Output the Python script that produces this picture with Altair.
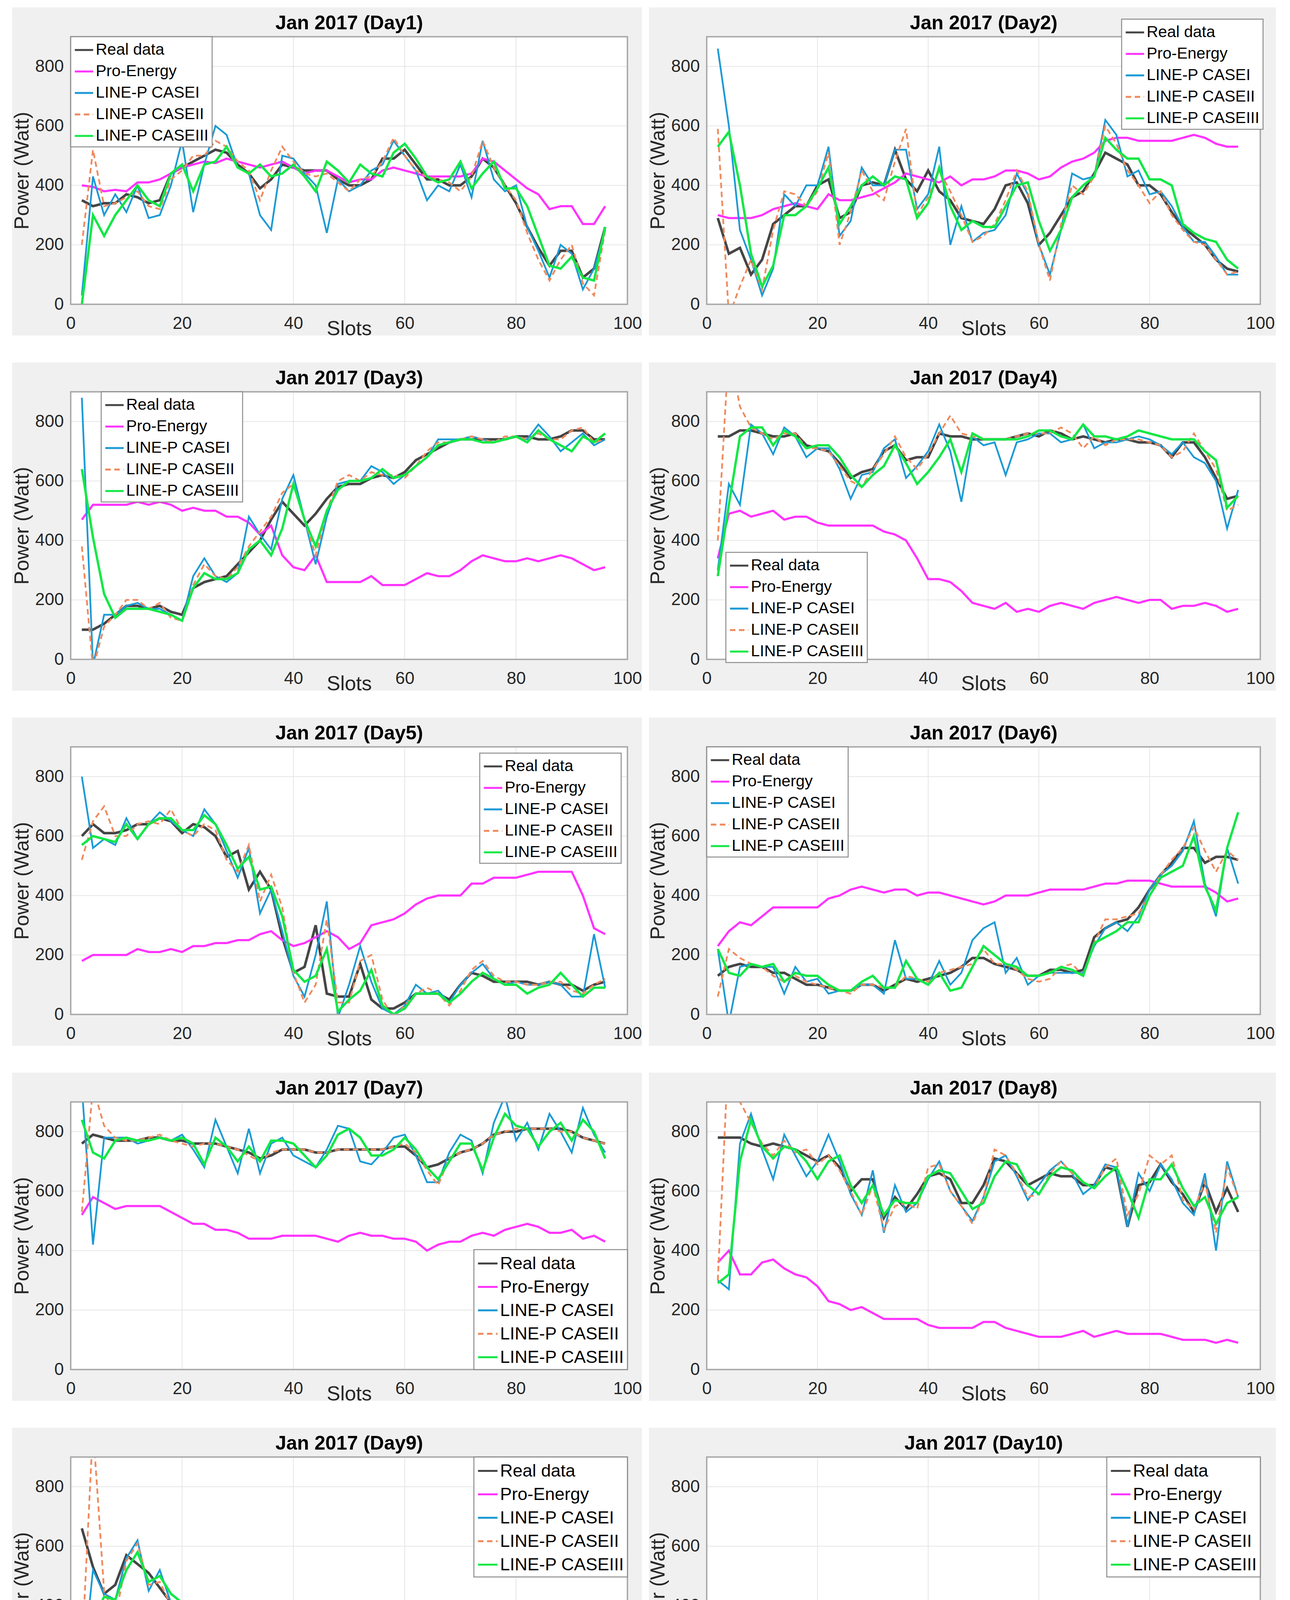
import altair as alt
import pandas as pd

# ---------------- data ----------------
SLOTS = list(range(2, 97, 2))
SERIES = ["Real data", "Pro-Energy", "LINE-P CASEI", "LINE-P CASEII", "LINE-P CASEIII"]

DAY1_REAL = [350,330,340,340,370, 360,340,350,440,460, 480,500,520,510,470, 440,390,420,470,460, 450,450,450,420,400, 400,420,490,490,520, 470,420,420,400,400, 430,490,460,400,340, 260,190,130,180,180, 90,120,260]
DAY1_PRO = [400,395,380,385,380, 410,410,420,440,460, 470,480,475,490,480, 470,460,470,480,460, 440,450,450,430,410, 420,420,450,460,450, 440,430,430,430,430, 440,490,480,450,420, 390,370,320,330,330, 270,270,330]
DAY1_C1 = [30,430,300,370,310, 400,290,300,400,550, 310,470,600,570,460, 440,300,250,500,490, 440,400,240,420,380, 400,450,470,550,500, 450,350,400,380,470, 360,550,420,380,400, 260,180,90,200,170, 50,120,250]
DAY1_C2 = [200,520,330,340,360, 380,330,320,420,450, 500,500,550,530,480, 450,350,450,530,480, 440,430,440,410,380, 420,430,480,560,500, 450,430,420,410,380, 430,550,460,400,350, 240,150,80,150,200, 70,30,250]
DAY1_C3 = [0,300,230,300,350, 400,350,330,440,470, 380,470,480,530,460, 440,470,430,440,470, 430,380,480,450,410, 470,440,430,510,540, 490,430,410,420,480, 390,440,480,390,390, 330,230,130,120,160, 90,80,260]

DAY2_REAL = [290,170,190,100,150, 270,300,330,330,400, 420,290,310,400,410, 400,520,420,380,450, 380,350,290,280,270, 320,400,410,340,200, 240,300,360,380,440, 510,490,470,400,400, 370,310,260,230,200, 150,120,110]
DAY2_PRO = [300,290,290,290,300, 320,330,340,330,320, 370,350,350,360,370, 390,410,440,430,420, 410,430,400,420,420, 430,450,450,440,420, 430,460,480,490,510, 550,560,560,550,550, 550,550,560,570,560, 540,530,530]
DAY2_C1 = [860,600,250,150,30, 120,370,330,400,400, 530,230,280,460,400, 400,520,520,320,370, 530,200,330,210,240, 250,300,440,370,200, 100,250,440,420,430, 620,570,430,450,370, 380,330,260,210,210, 160,100,100]
DAY2_C2 = [590,-40,60,150,50, 250,380,370,330,380, 510,200,310,450,380, 350,480,590,300,360, 450,380,300,210,230, 270,350,450,380,200, 80,270,400,370,430, 600,540,450,400,340, 380,300,250,210,200, 150,100,110]
DAY2_C3 = [530,580,400,170,60, 130,300,300,330,390, 460,270,330,400,430, 400,430,420,290,340, 460,330,250,280,260, 260,330,400,410,280, 180,250,360,400,430, 560,520,490,490,420, 420,400,270,240,220, 210,150,120]

DAY3_REAL = [100,100,120,150,180, 180,170,180,160,150, 240,260,270,280,320, 360,400,470,530,490, 450,490,540,580,590, 590,610,620,610,630, 670,690,710,730,740, 740,740,740,740,750, 750,740,740,750,770, 770,740,740]
DAY3_PRO = [470,520,520,520,520, 530,520,530,520,500, 510,500,500,480,480, 460,420,450,350,310, 300,350,260,260,260, 260,280,250,250,250, 270,290,280,280,300, 330,350,340,330,330, 340,330,340,350,340, 320,300,310]
DAY3_C1 = [880,-20,150,150,180, 190,170,170,150,130, 280,340,280,260,290, 480,420,370,540,620, 470,320,480,590,600, 600,650,630,590,620, 650,680,740,740,740, 750,740,730,740,750, 740,790,750,700,730, 760,720,740]
DAY3_C2 = [380,-30,110,150,200, 200,170,190,140,130, 250,320,280,270,310, 380,430,480,560,590, 470,350,500,600,620, 600,630,620,620,610, 650,700,730,730,740, 750,740,730,750,750, 740,760,740,740,770, 780,730,740]
DAY3_C3 = [640,410,220,140,170, 170,170,160,150,130, 240,290,270,270,290, 370,400,350,440,590, 470,380,500,570,600, 600,610,640,610,620, 650,680,720,730,740, 740,730,730,740,750, 730,770,740,720,700, 750,730,760]

DAY4_REAL = [750,750,770,770,760, 750,750,760,720,710, 700,660,610,630,640, 700,720,670,680,680, 760,750,750,740,740, 740,740,750,760,750, 770,760,740,750,740, 730,740,740,730,730, 720,680,730,730,680, 610,540,550]
DAY4_PRO = [340,490,500,480,490, 500,470,480,480,460, 450,450,450,450,450, 430,420,400,340,270, 270,260,230,190,180, 170,190,160,170,160, 180,190,180,170,190, 200,210,200,190,200, 200,170,180,180,190, 180,160,170]
DAY4_C1 = [300,590,520,790,760, 690,780,750,680,710, 710,640,540,620,630, 710,740,610,650,700, 790,700,530,750,720, 730,620,730,740,760, 760,730,740,790,710, 730,730,740,750,740, 720,690,730,680,660, 600,440,570]
DAY4_C2 = [400,1050,850,780,760, 740,760,760,710,710, 700,650,600,580,640, 690,750,680,640,690, 760,820,760,750,740, 740,740,750,760,760, 760,780,760,710,750, 720,740,740,740,730, 720,680,700,760,700, 640,500,520]
DAY4_C3 = [280,520,750,780,780, 720,770,750,710,720, 720,680,620,580,620, 650,720,660,590,630, 680,740,630,760,740, 740,740,740,750,770, 770,750,740,790,750, 750,740,750,770,760, 750,740,740,740,700, 670,510,550]

DAY5_REAL = [600,640,610,610,620, 640,640,660,650,610, 640,630,600,530,550, 420,480,420,260,140, 160,300,70,60,60, 170,50,20,20,40, 70,70,70,50,100, 140,130,110,110,110, 110,100,110,100,100, 80,100,110]
DAY5_PRO = [180,200,200,200,200, 220,210,210,220,210, 230,230,240,240,250, 250,270,280,250,230, 240,260,280,260,220, 240,300,310,320,340, 370,390,400,400,400, 440,440,460,460,460, 470,480,480,480,480, 400,290,270]
DAY5_C1 = [800,560,590,570,660, 590,640,680,650,620, 600,690,640,550,460, 560,340,420,280,130, 60,200,380,-10,100, 230,110,20,0,30, 100,70,80,40,100, 140,170,120,100,110, 100,100,110,100,60, 60,270,90]
DAY5_C2 = [520,650,700,600,600, 640,650,640,690,620, 600,640,620,520,480, 570,380,470,360,140, 40,100,320,40,40, 180,200,50,-10,30, 70,90,70,30,80, 150,180,130,110,110, 100,100,110,110,80, 70,100,120]
DAY5_C3 = [570,600,590,580,640, 590,640,660,660,620, 620,670,640,570,490, 530,420,430,330,150, 110,130,220,10,50, 80,150,30,0,20, 70,70,70,40,70, 110,140,120,100,100, 70,90,100,140,100, 60,90,90]

DAY6_REAL = [130,160,170,160,160, 140,140,120,100,100, 90,80,80,100,100, 80,100,120,110,120, 130,140,160,190,190, 170,160,150,130,130, 150,150,140,150,260, 290,310,320,360,420, 470,510,560,560,510, 530,530,520]
DAY6_PRO = [230,280,310,300,330, 360,360,360,360,360, 390,400,420,430,420, 410,420,420,400,410, 410,400,390,380,370, 380,400,400,400,410, 420,420,420,420,430, 440,440,450,450,450, 440,430,430,430,430, 410,380,390]
DAY6_C1 = [220,-30,160,170,160, 160,70,160,110,120, 70,80,80,100,100, 70,250,120,120,100, 180,100,140,250,290, 310,140,190,100,130, 140,140,140,140,230, 290,310,280,330,420, 470,500,550,650,440, 330,560,440]
DAY6_C2 = [60,220,190,170,160, 130,110,130,110,100, 90,80,70,100,100, 90,90,130,120,110, 140,150,160,170,220, 170,170,150,120,110, 120,160,170,130,240, 320,320,330,340,400, 470,520,560,630,550, 480,550,520]
DAY6_C3 = [220,140,130,170,160, 170,110,140,130,130, 100,80,80,110,130, 90,90,180,120,100, 140,80,90,160,230, 200,170,160,130,130, 140,160,150,130,240, 260,280,310,310,400, 460,480,500,600,430, 350,560,680]

DAY7_REAL = [760,790,780,770,770, 770,780,780,770,770, 760,760,760,750,740, 730,710,720,740,740, 740,730,730,740,740, 740,740,740,750,750, 720,680,690,710,730, 740,760,790,800,800, 810,810,810,810,800, 780,770,760]
DAY7_PRO = [520,580,560,540,550, 550,550,550,530,510, 490,490,470,470,460, 440,440,440,450,450, 450,450,440,430,450, 460,450,450,440,440, 430,400,420,430,430, 450,460,450,470,480, 490,480,460,460,470, 440,450,430]
DAY7_C1 = [950,420,780,780,780, 760,770,780,770,790, 740,680,840,750,660, 810,660,760,780,720, 700,680,740,820,810, 700,690,730,780,790, 720,630,630,730,790, 770,660,830,920,770, 830,740,860,800,730, 880,790,730]
DAY7_C2 = [530,950,820,780,770, 770,780,790,770,760, 750,760,760,750,740, 720,700,730,740,740, 740,730,730,740,740, 740,740,740,750,760, 730,670,620,710,730, 740,760,790,800,810, 810,810,810,800,800, 780,770,760]
DAY7_C3 = [840,730,710,770,780, 770,770,780,770,780, 760,690,780,750,700, 750,700,770,770,760, 720,680,720,790,810, 780,720,720,740,780, 740,680,640,700,760, 760,670,780,860,820, 810,750,800,830,770, 840,800,710]

DAY8_REAL = [780,780,780,760,750, 760,750,740,720,700, 720,680,600,640,640, 510,580,540,590,650, 660,640,560,560,620, 710,700,660,620,640, 660,650,650,620,620, 680,670,480,620,630, 690,630,590,530,630, 530,610,530]
DAY8_PRO = [360,400,320,320,360, 370,340,320,310,280, 230,220,200,210,190, 170,170,170,170,150, 140,140,140,140,160, 160,140,130,120,110, 110,110,120,130,110, 120,130,120,120,120, 120,110,100,100,100, 90,100,90]
DAY8_C1 = [300,270,760,860,740, 640,790,720,650,700, 790,700,590,520,670, 460,620,530,560,640, 700,600,550,500,580, 700,720,650,570,620, 670,700,660,590,620, 690,680,480,660,600, 690,640,560,520,660, 400,700,580]
DAY8_C2 = [300,1100,900,830,760, 720,770,730,740,690, 720,670,600,520,620, 470,550,560,540,680, 690,600,550,490,580, 740,720,660,580,590, 660,700,660,630,610, 680,710,520,590,720, 690,720,570,540,630, 460,680,580]
DAY8_C3 = [290,320,700,840,750, 710,750,740,700,640, 700,720,620,560,620, 520,570,560,560,650, 670,660,600,540,560, 650,700,690,620,590, 650,680,670,630,610, 650,680,600,510,640, 640,690,610,550,580, 490,560,580]

DAY9_REAL = [660,530,440,470,570, 540,510,460,410,260, 260,240,250,210,180, 170,170,170,140,90, 90,100,120,120,120, 100,60,60,50,30, 20,30,60,70,40, 40,40,30,30,20, 10,0,0,0,0, 0,0,0]
DAY9_PRO = [110,110,80,80,90, 90,80,80,70,60, 50,50,50,50,50, 50,50,50,60,50, 30,30,30,30,40, 30,20,20,10,10, 10,10,20,20,20, 20,20,20,20,40, 40,40,40,40,40, 40,40,30]
DAY9_C1 = [160,520,440,420,560, 620,450,520,410,360, 160,230,240,270,180, 170,150,160,160,80, 60,90,130,110,60, 100,60,30,90,40, 20,40,60,90,40, 0,40,40,30,20, 0,0,0,0,0, 0,0,0]
DAY9_C2 = [240,1000,450,360,550, 610,470,480,400,340, 150,240,240,250,200, 160,150,170,150,80, 40,90,110,120,130, 100,60,30,80,30, 0,40,70,80,40, 10,50,30,30,20, 0,0,0,0,0, 0,0,0]
DAY9_C3 = [150,350,430,420,520, 580,480,500,440,410, 230,240,250,260,200, 170,170,170,160,90, 80,90,110,110,90, 100,60,50,80,30, 20,30,60,80,40, 30,40,40,60,20, 10,0,0,0,0, 0,0,0]

DAY10_REAL = [0,10,0,0,0, 0,0,0,0,10, 10,0,0,0,0, 30,30,30,0,0, 0,0,0,60,60, 0,0,10,0,0, 0,10,10,10,10, 10,0,10,30,110, 90,80,80,80,70, 60,40,40]
DAY10_PRO = [50,40,40,30,30, 30,30,20,20,20, 30,30,30,30,40, 50,60,60,60,60, 60,50,50,50,60, 50,40,40,40,50, 60,70,70,80,100, 110,110,120,130,150, 150,150,150,150,150, 140,130,110]
DAY10_C1 = [10,20,10,0,0, 0,0,10,0,10, 20,10,0,0,0, 30,50,0,50,0, 0,10,10,40,80, 50,0,0,20,0, 0,0,10,10,10, 20,10,0,20,110, 150,70,100,80,70, 60,30,30]
DAY10_C2 = [0,10,0,0,0, 0,0,0,0,10, 20,10,0,0,0, 20,40,10,40,0, 0,0,0,40,90, 40,0,0,10,0, 0,0,10,10,10, 10,10,0,10,80, 120,80,100,80,70, 60,30,30]
DAY10_C3 = [10,20,10,0,0, 0,0,0,0,10, 20,10,0,0,0, 20,50,10,50,0, 0,0,0,30,70, 30,0,0,0,0, 0,0,10,10,10, 20,10,0,20,80, 120,70,100,80,70, 60,40,40]

DAY11_REAL = [20,10,10,10,20, 20,10,0,10,10, 10,10,10,20,20, 20,20,30,50,50, 10,0,0,10,10, 10,10,20,10,0, 0,0,0,10,10, 10,10,10,20,20, 20,20,20,20,30, 30,20,10]
DAY11_PRO = [170,180,170,160,160, 150,150,150,150,150, 140,160,150,140,140, 140,130,120,110,100, 90,80,80,70,60, 60,50,40,40,40, 40,40,40,60,80, 90,90,90,100,110, 110,110,110,110,110, 110,110,100]
DAY11_C1 = [60,80,10,10,20, 30,10,0,20,10, 10,10,10,20,20, 10,20,30,50,70, 20,0,0,10,10, 10,10,20,20,0, 0,0,0,10,10, 10,10,20,20,20, 20,20,20,30,30, 20,20,0]
DAY11_C2 = [60,10,0,10,20, 20,10,0,10,10, 10,10,10,20,20, 20,20,30,50,60, 20,0,0,10,10, 10,10,20,20,0, 0,0,0,10,10, 10,10,10,20,20, 20,20,20,20,30, 30,20,10]
DAY11_C3 = [20,60,0,10,20, 20,10,10,10,10, 10,10,10,20,20, 20,20,30,50,60, 30,0,0,10,10, 10,10,20,10,0, 0,0,0,10,10, 10,10,10,20,20, 20,20,20,30,30, 30,20,10]

DAY12_REAL = [20,20,20,10,10, 10,0,10,10,10, 10,10,10,10,20, 20,20,10,10,0, 0,10,20,20,20, 20,10,10,10,0, 0,10,10,20,30, 40,50,40,40,40, 40,40,40,50,50, 60,60,70]
DAY12_PRO = [80,90,80,80,70, 70,70,60,60,60, 60,60,70,70,70, 70,70,60,60,60, 60,60,60,60,60, 60,60,60,70,60, 60,60,60,70,80, 90,90,100,100,110, 110,110,100,90,90, 90,90,80]
DAY12_C1 = [120,160,20,20,20, 10,10,10,10,10, 10,10,10,10,20, 30,20,10,10,0, 0,10,20,30,20, 20,10,20,10,0, 0,10,10,20,30, 40,60,30,40,40, 40,40,40,50,50, 60,50,60]
DAY12_C2 = [20,20,0,10,10, 10,0,10,10,10, 10,10,10,10,20, 30,20,10,10,0, 0,10,20,30,20, 20,10,20,10,0, 0,10,10,20,30, 40,50,30,40,40, 40,40,40,50,50, 60,60,60]
DAY12_C3 = [40,110,10,20,20, 10,0,10,10,10, 10,10,10,10,20, 20,20,10,10,0, 0,10,20,20,20, 10,10,20,0,0, 0,10,10,30,30, 50,40,40,40,40, 40,40,30,40,50, 60,60,60]

DAYS = [
    [DAY1_REAL, DAY1_PRO, DAY1_C1, DAY1_C2, DAY1_C3],
    [DAY2_REAL, DAY2_PRO, DAY2_C1, DAY2_C2, DAY2_C3],
    [DAY3_REAL, DAY3_PRO, DAY3_C1, DAY3_C2, DAY3_C3],
    [DAY4_REAL, DAY4_PRO, DAY4_C1, DAY4_C2, DAY4_C3],
    [DAY5_REAL, DAY5_PRO, DAY5_C1, DAY5_C2, DAY5_C3],
    [DAY6_REAL, DAY6_PRO, DAY6_C1, DAY6_C2, DAY6_C3],
    [DAY7_REAL, DAY7_PRO, DAY7_C1, DAY7_C2, DAY7_C3],
    [DAY8_REAL, DAY8_PRO, DAY8_C1, DAY8_C2, DAY8_C3],
    [DAY9_REAL, DAY9_PRO, DAY9_C1, DAY9_C2, DAY9_C3],
    [DAY10_REAL, DAY10_PRO, DAY10_C1, DAY10_C2, DAY10_C3],
    [DAY11_REAL, DAY11_PRO, DAY11_C1, DAY11_C2, DAY11_C3],
    [DAY12_REAL, DAY12_PRO, DAY12_C1, DAY12_C2, DAY12_C3],
]

X_TICKS = [0, 20, 40, 60, 80, 100]
Y_TICKS = [0, 200, 400, 600, 800]
X_GRID = [20, 40, 60, 80]
Y_GRID = [200, 400, 600, 800]

# ---------------- styling ----------------
COLORS = ["#454545", "#FF33FF", "#1C9AD6", "#F08A5D", "#12E845"]
DASHES = [[1, 0], [1, 0], [1, 0], [14, 9], [1, 0]]
WIDTHS = [6.5, 5.5, 4.5, 4.5, 6]
FONT = "Liberation Sans"
H = 685
W_LEFT, W_RIGHT = 1425, 1417


def legend_for(i, W):
    small = dict(labelFontSize=41, symbolSize=2209)
    big = dict(labelFontSize=45, symbolSize=2500)
    common = dict(title=None, symbolType="stroke", symbolStrokeWidth=5,
                  labelFont=FONT, labelColor="black", fillColor="white",
                  strokeColor="#8C8C8C", padding=8, rowPadding=9, labelOffset=4,
                  labelLimit=1000, zindex=1)
    if i == 0:
        return alt.Legend(orient="top-left", offset=0, **small, **common)
    if i == 1:
        return alt.Legend(orient="none", legendX=W - 355, legendY=-45, **small, **common)
    if i == 2:
        return alt.Legend(orient="none", legendX=78, legendY=0, **small, **common)
    if i == 3:
        return alt.Legend(orient="none", legendX=49, legendY=H - 274, **small, **common)
    if i == 4:
        return alt.Legend(orient="top-right", offset=16, **small, **common)
    if i == 5:
        return alt.Legend(orient="top-left", offset=0, **small, **common)
    if i == 6:
        return alt.Legend(orient="bottom-right", offset=0, **big, **common)
    if i == 7:
        return None
    return alt.Legend(orient="top-right", offset=0, **big, **common)


def panel(i, vals):
    left = (i % 2 == 0)
    W = W_LEFT if left else W_RIGHT
    gl, gr = (150, 37) if left else (148, 40)
    rows = []
    for name, arr in zip(SERIES, vals):
        for s, v in zip(SLOTS, arr):
            rows.append({"slot": s, "power": v, "series": name})
    df = pd.DataFrame(rows)
    xs = alt.Scale(domain=[0, 100], nice=False, zero=False)
    ys = alt.Scale(domain=[0, 900], nice=False, zero=False)
    one = pd.DataFrame({"k": [0]})

    bg = alt.Chart(one).mark_rect(color="#F0F0F0").encode(
        x=alt.value(-gl), x2=alt.value(W + gr), y=alt.value(-75), y2=alt.value(H + 80))
    plotbg = alt.Chart(one).mark_rect(color="white").encode(
        x=alt.value(0), x2=alt.value(W), y=alt.value(0), y2=alt.value(H))
    gridx = alt.Chart(pd.DataFrame({"slot": X_GRID})).mark_rule(
        color="#E6E6E6", strokeWidth=2).encode(
        x=alt.X("slot:Q", scale=xs, axis=alt.Axis(
            orient="top", labels=False, ticks=False, domain=False, grid=False,
            title=f"Jan 2017 (Day{i + 1})", titleFont=FONT, titleFontSize=50,
            titleFontWeight="bold", titleColor="black", titleY=-20,
            titleBaseline="alphabetic", zindex=1)))
    gridy = alt.Chart(pd.DataFrame({"power": Y_GRID})).mark_rule(
        color="#E6E6E6", strokeWidth=2).encode(
        y=alt.Y("power:Q", scale=ys, axis=None))

    leg = legend_for(i, W)
    xaxis = alt.Axis(orient="bottom", values=X_TICKS, format="d", grid=False, ticks=False,
                     domain=False, labelPadding=27, labelFlush=False, title="Slots",
                     titleFont=FONT, titleFontSize=52, titleFontWeight="normal",
                     titleColor="#262626", titleY=78, titleBaseline="alphabetic", zindex=1)
    yaxis = alt.Axis(orient="left", values=Y_TICKS, format="d", grid=False, ticks=False,
                     domain=False, labelPadding=18, labelFont=FONT, labelFontSize=44,
                     labelColor="#262626", title="Power (Watt)", titleFont=FONT,
                     titleFontSize=52, titleFontWeight="normal", titleColor="#262626",
                     titlePadding=6, zindex=1)
    lines = []
    for k, name in enumerate(SERIES):
        lines.append(
            alt.Chart(df).transform_filter(alt.datum.series == name)
            .mark_line(strokeWidth=WIDTHS[k], clip=True)
            .encode(
                x=alt.X("slot:Q", scale=xs, axis=xaxis if k == 0 else None),
                y=alt.Y("power:Q", scale=ys, axis=yaxis if k == 0 else None),
                color=alt.Color("series:N", scale=alt.Scale(domain=SERIES, range=COLORS), legend=leg),
                strokeDash=alt.StrokeDash("series:N", scale=alt.Scale(domain=SERIES, range=DASHES), legend=leg),
            )
        )
    border = alt.Chart(one).mark_rect(fillOpacity=0, stroke="#A6A6A6", strokeWidth=3.5).encode(
        x=alt.value(0), x2=alt.value(W), y=alt.value(0), y2=alt.value(H))
    return alt.layer(bg, plotbg, gridx, gridy, *lines, border).resolve_axis(
        x="independent", y="independent").properties(width=W, height=H)


panels = [panel(i, v) for i, v in enumerate(DAYS)]

chart = alt.concat(*panels, columns=2, spacing={"row": 224, "column": 203}).properties(
    bounds="flush",
    padding={"left": 22, "top": 11, "right": 10, "bottom": 10},
    background="white",
).resolve_scale(
    color="independent", strokeDash="independent"
).resolve_legend(
    color="independent", strokeDash="independent"
).configure(font=FONT).configure_view(strokeWidth=0).configure_axis(
    labelFont=FONT, labelFontSize=44, labelColor="#262626"
).configure_legend(strokeWidth=2.5)

chart.save("out.html", embed_options={"renderer": "svg", "actions": False})
